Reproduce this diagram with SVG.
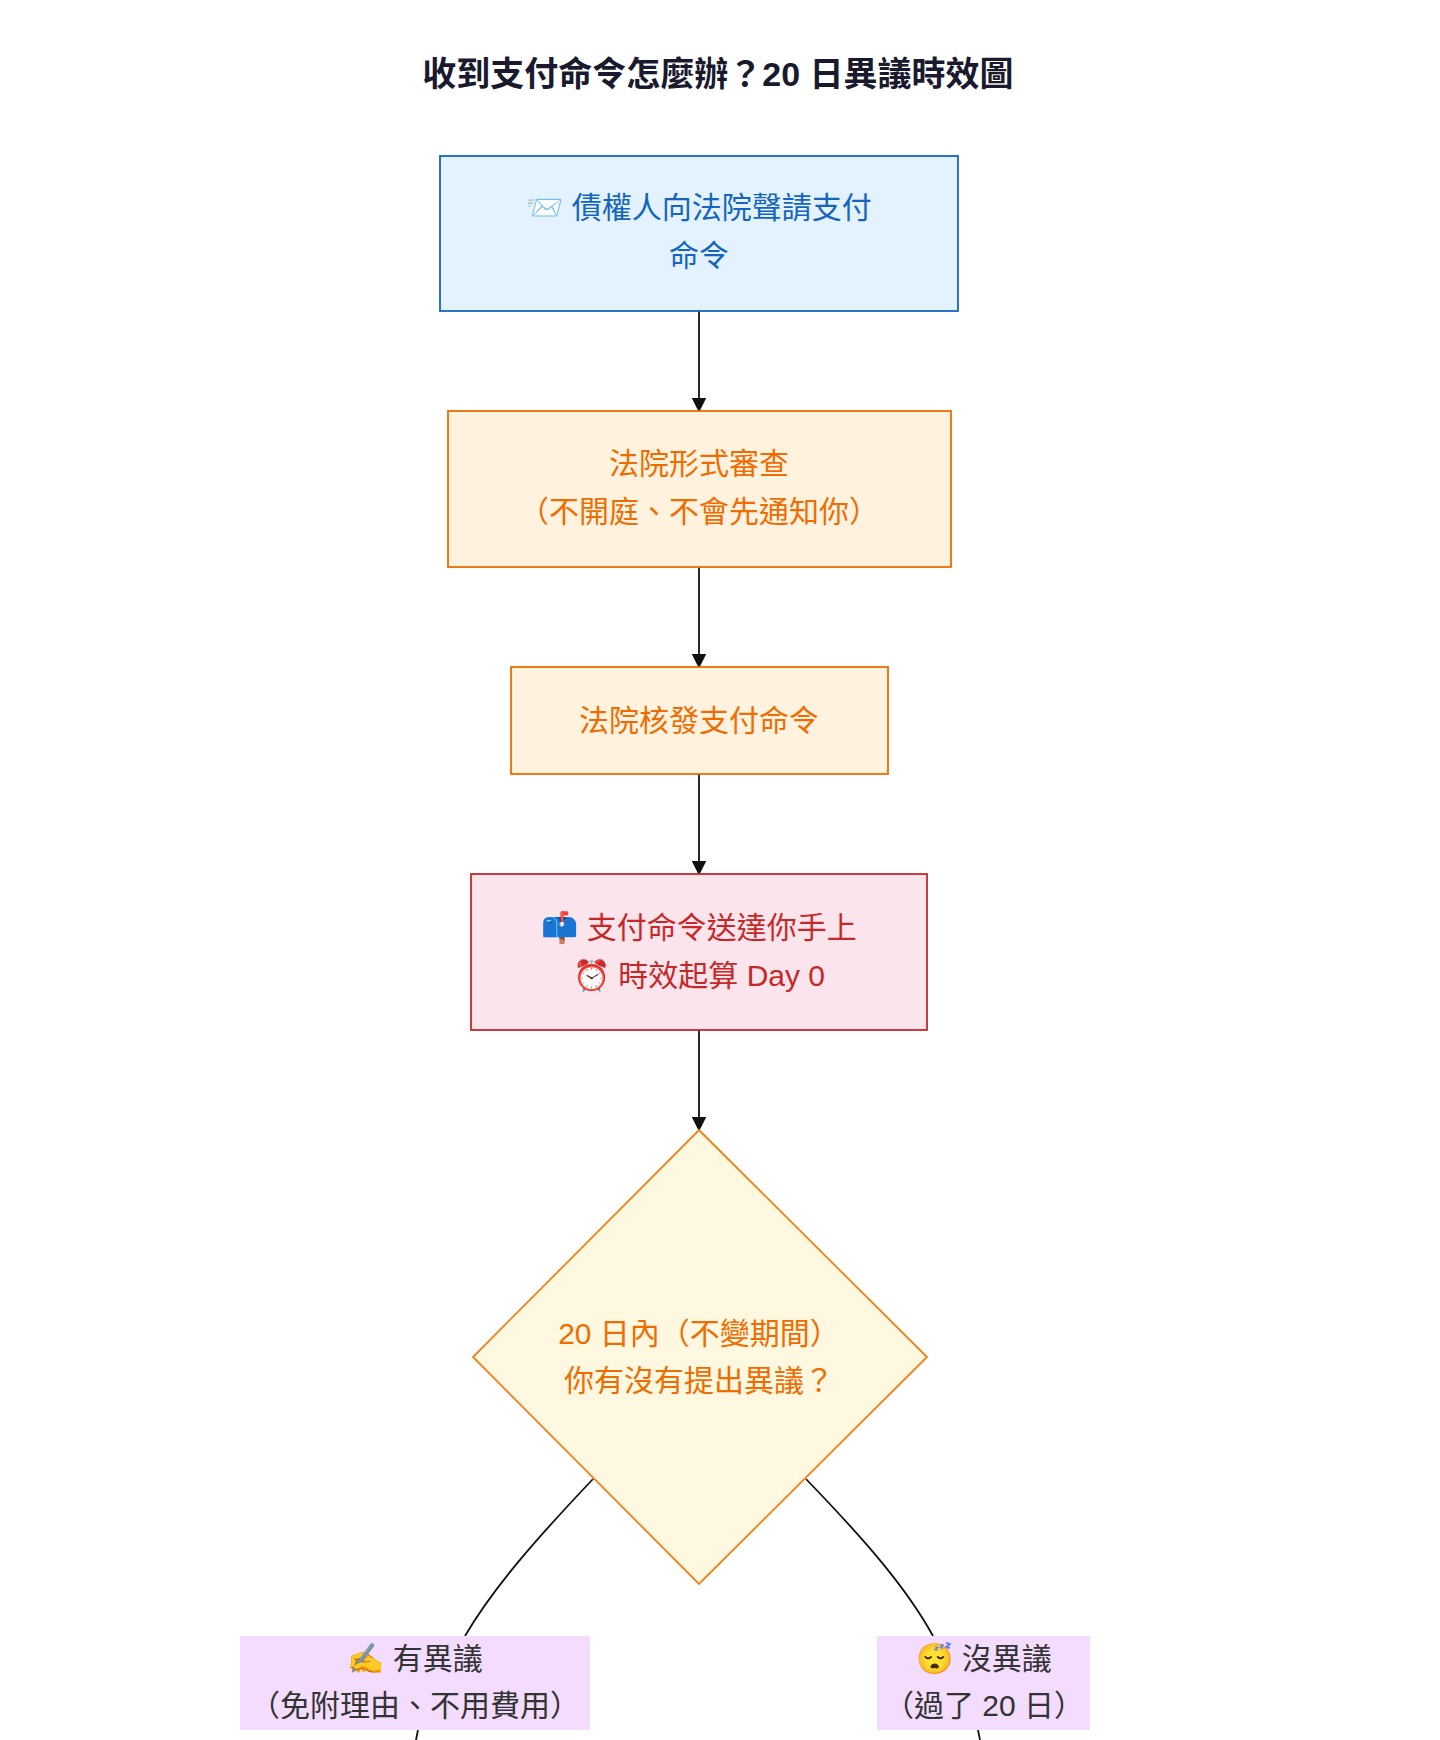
<svg xmlns="http://www.w3.org/2000/svg" width="1440" height="1740" viewBox="0 0 1440 1740">
<defs>
<marker id="ah" viewBox="0 0 10 10" refX="9" refY="5" markerWidth="8" markerHeight="8" orient="auto"><path d="M0,0L10,5L0,10z" fill="#111"/></marker>
<style>
text{font-family:"Liberation Sans","Noto Sans CJK TC",sans-serif;font-size:30px;text-anchor:middle}
.e{stroke:#111;stroke-width:1.8;fill:none}
</style>
</defs>
<rect width="1440" height="1740" fill="#fff"/>
<text x="718" y="86" style="font-size:34px;font-weight:bold" fill="#1a1a2e">收到支付命令怎麼辦？20 日異議時效圖</text>
<g id="connectors">
<path class="e" d="M699,311V411" marker-end="url(#ah)"/>
<path class="e" d="M699,567V667" marker-end="url(#ah)"/>
<path class="e" d="M699,774V874" marker-end="url(#ah)"/>
<path class="e" d="M699,1030V1130" marker-end="url(#ah)"/>
<path class="e" d="M593,1479C540,1535 495,1585 465,1636"/>
<path class="e" d="M806,1479C860,1535 905,1585 933,1636"/>
<path class="e" d="M418,1730L416,1740"/>
<path class="e" d="M978,1730L980,1740"/>
</g>
<g id="n1"><rect x="440" y="156" width="518" height="155" fill="#e3f2fd" stroke="#1565c0" stroke-width="1.8"/>
<text x="699" y="218" fill="#1565c0">📨 債權人向法院聲請支付</text><text x="699" y="266" fill="#1565c0">命令</text></g>
<g id="n2"><rect x="448" y="411" width="503" height="156" fill="#fff3e0" stroke="#ef6c00" stroke-width="1.8"/>
<text x="699" y="474" fill="#ef6c00">法院形式審查</text><text x="699" y="522" fill="#ef6c00">（不開庭、不會先通知你）</text></g>
<g id="n3"><rect x="511" y="667" width="377" height="107" fill="#fff3e0" stroke="#ef6c00" stroke-width="1.8"/>
<text x="699" y="731" fill="#ef6c00">法院核發支付命令</text></g>
<g id="n4"><rect x="471" y="874" width="456" height="156" fill="#fce4ec" stroke="#c62828" stroke-width="1.8"/>
<text x="699" y="938" fill="#c62828">📫 支付命令送達你手上</text><text x="699" y="986" fill="#c62828">⏰ 時效起算 Day 0</text></g>
<g id="n5"><path d="M699,1130L927,1357L699,1584L473,1357Z" fill="#fff8e1" stroke="#f57f17" stroke-width="1.8"/>
<text x="699" y="1344" fill="#ef6c00">20 日內（不變期間）</text><text x="699" y="1391" fill="#ef6c00">你有沒有提出異議？</text></g>
<g id="n6"><rect x="240" y="1636" width="350" height="94" fill="#f3dcfd"/>
<text x="415" y="1669" fill="#333">✍️ 有異議</text><text x="415" y="1716" fill="#333">（免附理由、不用費用）</text></g>
<g id="n7"><rect x="877" y="1636" width="213" height="94" fill="#f3dcfd"/>
<text x="984" y="1669" fill="#333">😴 沒異議</text><text x="984" y="1716" fill="#333">（過了 20 日）</text></g>
</svg>
